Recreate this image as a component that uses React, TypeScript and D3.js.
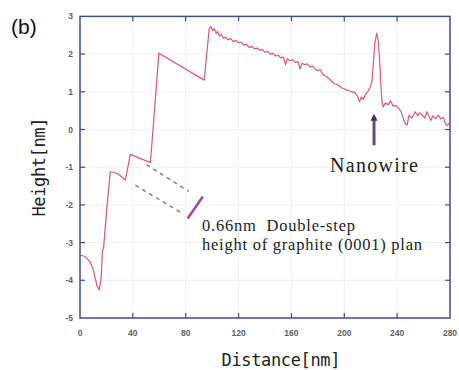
import { useRef, useEffect } from "react";
import * as d3 from "d3";

const svg_width = 459;
const svg_height = 370;

const [x_min, x_max] = [0, 280];
const [y_min, y_max] = [-5, 3];

const x_ticks = [0, 40, 80, 120, 160, 200, 240, 280];
const y_ticks = [-5, -4, -3, -2, -1, 0, 1, 2, 3];

// line profile, distance [nm]
const distance = [
    0, 3.8, 7.6, 10.2, 12.7, 14.5, 16, 17, 17.8, 20.3, 22.9, 28, 31.7, 34.3, 38.1, 53.3, 59.7, 94, 97.8,
    99, 100.5, 101.5, 103, 104, 105.5, 107, 108.5, 110, 112, 114, 116, 118, 120, 122, 124, 126, 128, 130,
    132, 134, 136, 138, 140, 142, 144, 146, 148, 150, 152, 154, 155.5, 157, 159, 161, 163, 165, 166.5, 168,
    170, 172, 174, 176, 178, 180, 182, 184, 186, 188, 190, 192, 194, 196, 198, 200, 202, 204, 206, 208,
    210, 211.5, 213, 214.5, 216, 218, 219.6, 221, 222, 223, 224.5, 225.5, 226.5, 227.5, 228.5, 229.5,
    231, 233.5, 235, 237, 239, 241, 243, 245, 246.5, 247.6, 249, 251, 253.7, 255.5, 257, 259, 261, 262.5,
    264, 265.5, 267, 269, 271, 273, 275, 276.5, 278, 279.5,
];

// line profile, height [nm]
const height = [
    -3.33, -3.37, -3.51, -3.73, -4.13, -4.26, -3.95, -3.2, -3.16, -2.1, -1.12, -1.16, -1.26, -1.34, -0.66, -0.88, 2.02, 1.31, 2.68,
    2.73, 2.62, 2.68, 2.55, 2.6, 2.48, 2.52, 2.42, 2.45, 2.38, 2.41, 2.33, 2.36, 2.3, 2.32, 2.24, 2.26, 2.18, 2.2,
    2.14, 2.16, 2.1, 2.12, 2.05, 2.07, 2.0, 2.02, 1.95, 1.97, 1.9, 1.92, 1.72, 1.88, 1.82, 1.85, 1.78, 1.8, 1.6, 1.76,
    1.72, 1.74, 1.66, 1.68, 1.6, 1.56, 1.58, 1.45, 1.42, 1.36, 1.3, 1.22, 1.2, 1.16, 1.1, 1.08, 1.04, 1.02, 1.0, 0.98,
    0.88, 0.74, 0.86, 0.8, 0.93, 1.02, 1.12, 1.3, 1.75, 2.25, 2.55, 2.4, 2.0, 1.3, 0.75, 0.6,
    0.7, 0.66, 0.76, 0.62, 0.64, 0.56, 0.48, 0.25, 0.14, 0.12, 0.38, 0.3, 0.47, 0.36, 0.44, 0.38, 0.3, 0.47,
    0.36, 0.24, 0.36, 0.29, 0.38, 0.28, 0.32, 0.16, 0.1, 0.18, 0.05,
];

// guide lines for the double step [distance, height]
const upper_guide: [number, number][] = [[50.3, -0.93], [82.3, -1.64]];
const lower_guide: [number, number][] = [[41.9, -1.48], [77.7, -2.23]];
const step_mark: [number, number][] = [[93, -1.78], [81.5, -2.36]];
const arrow_points: [number, number][] = [[222.5, -0.42], [222.5, 0.42]];

const left = 80;
const right = 450;
const top = 16.4;
const bottom = 318;

export default function App() {
    const ref = useRef(null);

    useEffect(() => {
        const destroy = () => {
            d3.select(ref.current).selectAll("*").remove();
        };

        const x = d3.scaleLinear()
            .domain([x_min, x_max])
            .range([left, right]);

        const y = d3.scaleLinear()
            .domain([y_min, y_max])
            .range([bottom, top]);

        const svg = d3.select(ref.current)
            .append("svg")
                .attr("width", svg_width)
                .attr("height", svg_height)
                .style("position", "absolute")
                .style("left", "0px")
                .style("top", "0px")
                .style("background-color", "white");

        // faint grid
        const grid = svg.append("g")
            .attr("stroke", "#efefef")
            .attr("stroke-width", 1);
        grid.selectAll(".gx").data(x_ticks.slice(1, -1)).join("line")
            .attr("x1", d => x(d)).attr("x2", d => x(d))
            .attr("y1", top).attr("y2", bottom);
        grid.selectAll(".gy").data(y_ticks.slice(1, -1)).join("line")
            .attr("x1", left).attr("x2", right)
            .attr("y1", d => y(d)).attr("y2", d => y(d));

        const line = d3.line<number>()
            .x((_, i) => x(distance[i]))
            .y(d => y(d));

        svg.append("path")
            .datum(height)
            .attr("fill", "none")
            .attr("stroke", "#dc5676")
            .attr("stroke-width", 1.2)
            .attr("stroke-linejoin", "round")
            .attr("d", line);

        const seg = d3.line<[number, number]>()
            .x(d => x(d[0]))
            .y(d => y(d[1]));

        [upper_guide, lower_guide].forEach(g => {
            svg.append("path")
                .datum(g)
                .attr("fill", "none")
                .attr("stroke", "#8a8a8a")
                .attr("stroke-width", 1.6)
                .attr("stroke-dasharray", "4,4")
                .attr("d", seg);
        });

        svg.append("path")
            .datum(step_mark)
            .attr("fill", "none")
            .attr("stroke", "#9b4f9e")
            .attr("stroke-width", 2.6)
            .attr("d", seg);

        // nanowire arrow
        const [ax, ay0] = [x(arrow_points[0][0]), y(arrow_points[0][1])];
        const ay1 = y(arrow_points[1][1]);
        svg.append("line")
            .attr("x1", ax).attr("x2", ax)
            .attr("y1", ay0).attr("y2", ay1 + 6)
            .attr("stroke", "#6a4a66")
            .attr("stroke-width", 3);
        svg.append("path")
            .attr("d", `M${ax - 3.5},${ay1 + 7} L${ax},${ay1} L${ax + 3.5},${ay1 + 7} Z`)
            .attr("fill", "#4a2a46");

        // frame
        svg.append("rect")
            .attr("x", left)
            .attr("y", top)
            .attr("width", right - left)
            .attr("height", bottom - top)
            .attr("fill", "none")
            .attr("stroke", "#3f4c8e")
            .attr("stroke-width", 1.5);

        const ticks = svg.append("g")
            .attr("stroke", "#3f4c8e")
            .attr("stroke-width", 1.2);
        x_ticks.slice(1, -1).forEach(t => {
            ticks.append("line").attr("x1", x(t)).attr("x2", x(t)).attr("y1", bottom).attr("y2", bottom - 5);
            ticks.append("line").attr("x1", x(t)).attr("x2", x(t)).attr("y1", top).attr("y2", top + 5);
        });
        y_ticks.slice(1, -1).forEach(t => {
            ticks.append("line").attr("x1", left).attr("x2", left + 5).attr("y1", y(t)).attr("y2", y(t));
            ticks.append("line").attr("x1", right).attr("x2", right - 5).attr("y1", y(t)).attr("y2", y(t));
        });

        const labels = svg.append("g")
            .style("font-family", "'Liberation Sans', Arial, sans-serif")
            .style("font-size", "8.5px")
            .style("font-weight", "bold")
            .attr("fill", "#606060");
        y_ticks.forEach(t => {
            labels.append("text")
                .attr("x", 73)
                .attr("y", y(t) + 3)
                .attr("text-anchor", "end")
                .text(String(t));
        });
        x_ticks.forEach(t => {
            labels.append("text")
                .attr("x", x(t))
                .attr("y", 336)
                .attr("text-anchor", "middle")
                .text(String(t));
        });

        // axis titles
        svg.append("text")
            .attr("x", 281)
            .attr("y", 366)
            .attr("text-anchor", "middle")
            .attr("textLength", 119)
            .style("font-family", "'DejaVu Sans Mono', monospace")
            .style("font-size", "17px")
            .attr("fill", "#222")
            .text("Distance[nm]");

        svg.append("text")
            .attr("transform", `translate(45, 167) rotate(-90)`)
            .attr("text-anchor", "middle")
            .attr("textLength", 99)
            .style("font-family", "'DejaVu Sans Mono', monospace")
            .style("font-size", "17px")
            .attr("fill", "#222")
            .text("Height[nm]");

        svg.append("text")
            .attr("x", 11)
            .attr("y", 34)
            .style("font-family", "'Liberation Sans', Arial, sans-serif")
            .style("font-size", "21px")
            .attr("fill", "#111")
            .text("(b)");

        // annotations
        const serif = "'Liberation Serif', 'Times New Roman', serif";
        svg.append("text")
            .attr("x", 330)
            .attr("y", 172)
            .attr("textLength", 88)
            .style("font-family", serif)
            .style("font-size", "20px")
            .attr("fill", "#222")
            .text("Nanowire");

        svg.append("text")
            .attr("x", 202)
            .attr("y", 231)
            .attr("textLength", 153)
            .style("font-family", serif)
            .style("font-size", "16.5px")
            .attr("fill", "#222")
            .style("white-space", "pre")
            .text("0.66nm  Double-step");

        svg.append("text")
            .attr("x", 202)
            .attr("y", 249.5)
            .attr("textLength", 220)
            .style("font-family", serif)
            .style("font-size", "16.5px")
            .attr("fill", "#222")
            .text("height of graphite (0001) plan");

        return destroy;
    }, [ref]);

    return (
        <div ref={ref} />
    )
}
